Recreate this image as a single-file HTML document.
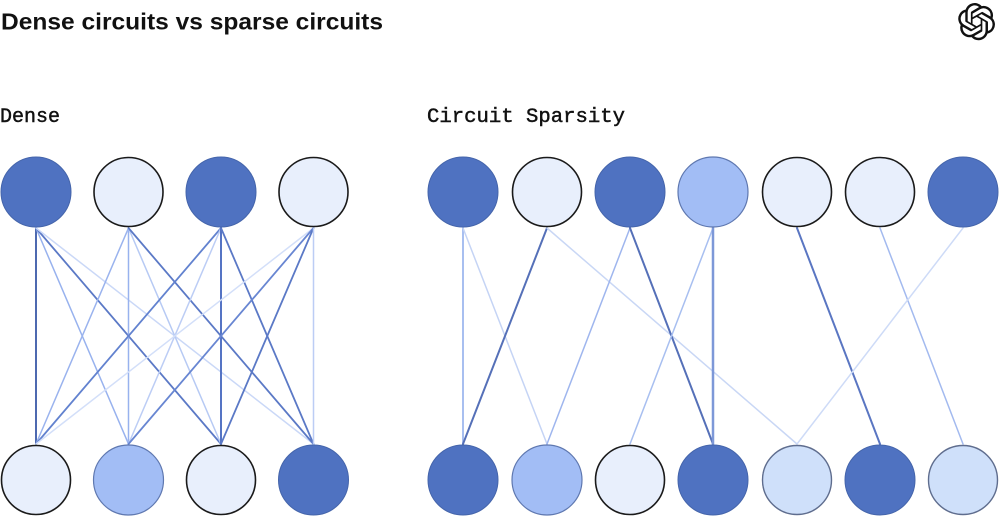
<!DOCTYPE html>
<html>
<head>
<meta charset="utf-8">
<style>
  html, body { margin: 0; padding: 0; background: #ffffff; }
  body { width: 1000px; height: 517px; overflow: hidden; }
  svg { display: block; }
</style>
</head>
<body>
<svg width="1000" height="517" viewBox="0 0 1000 517" xmlns="http://www.w3.org/2000/svg">
  <rect width="1000" height="517" fill="#ffffff"/>

  <!-- Title -->
  <text x="1" y="29.5" font-family="Liberation Sans, Arial, sans-serif" font-weight="bold" font-size="23" fill="#111111" textLength="382" lengthAdjust="spacingAndGlyphs">Dense circuits vs sparse circuits</text>

  <!-- Logo -->
  <g transform="translate(958,3) scale(1.55)" fill="#111111">
    <path d="M22.2819 9.8211a5.9847 5.9847 0 0 0-.5157-4.9108 6.0462 6.0462 0 0 0-6.5098-2.9A6.0651 6.0651 0 0 0 4.9807 4.1818a5.9847 5.9847 0 0 0-3.9977 2.9 6.0462 6.0462 0 0 0 .7427 7.0966 5.98 5.98 0 0 0 .511 4.9107 6.051 6.051 0 0 0 6.5146 2.9001A5.9847 5.9847 0 0 0 13.2599 24a6.0557 6.0557 0 0 0 5.7718-4.2058 5.9894 5.9894 0 0 0 3.9977-2.9001 6.0557 6.0557 0 0 0-.7475-7.0729zm-9.022 12.6081a4.4755 4.4755 0 0 1-2.8764-1.0408l.1419-.0804 4.7783-2.7582a.7948.7948 0 0 0 .3927-.6813v-6.7369l2.02 1.1686a.071.071 0 0 1 .038.052v5.5826a4.504 4.504 0 0 1-4.4945 4.4944zm-9.6607-4.1254a4.4708 4.4708 0 0 1-.5346-3.0137l.142.0852 4.783 2.7582a.7712.7712 0 0 0 .7806 0l5.8428-3.3685v2.3324a.0804.0804 0 0 1-.0332.0615L9.74 19.9502a4.4992 4.4992 0 0 1-6.1408-1.6464zM2.3408 7.8956a4.485 4.485 0 0 1 2.3655-1.9728V11.6a.7664.7664 0 0 0 .3879.6765l5.8144 3.3543-2.0201 1.1685a.0757.0757 0 0 1-.071 0l-4.8303-2.7865A4.504 4.504 0 0 1 2.3408 7.872zm16.5963 3.8558L13.1038 8.364 15.1192 7.2a.0757.0757 0 0 1 .071 0l4.8303 2.7913a4.4944 4.4944 0 0 1-.6765 8.1042v-5.6772a.79.79 0 0 0-.407-.667zm2.0107-3.0231l-.142-.0852-4.7735-2.7818a.7759.7759 0 0 0-.7854 0L9.409 9.2297V6.8974a.0662.0662 0 0 1 .0284-.0615l4.8303-2.7866a4.4992 4.4992 0 0 1 6.6802 4.66zM8.3065 12.863l-2.02-1.1638a.0804.0804 0 0 1-.038-.0567V6.0742a4.4992 4.4992 0 0 1 7.3757-3.4537l-.142.0805L8.704 5.459a.7948.7948 0 0 0-.3927.6813zm1.0976-2.3654l2.602-1.4998 2.6069 1.4998v2.9994l-2.5974 1.4997-2.6067-1.4997Z"/>
  </g>

  <!-- Section labels -->
  <text x="0" y="122" font-family="Liberation Mono, monospace" font-size="20" fill="#111111" stroke="#111111" stroke-width="0.45" textLength="60" lengthAdjust="spacingAndGlyphs">Dense</text>
  <text x="427" y="122" font-family="Liberation Mono, monospace" font-size="20" fill="#111111" stroke="#111111" stroke-width="0.45" textLength="198" lengthAdjust="spacingAndGlyphs">Circuit Sparsity</text>

  <!-- DENSE connections (top y=228, bottom y=444) -->
  <g stroke-linecap="round" fill="none">
    <line x1="36" y1="228" x2="36" y2="444" stroke="#4d69b0" stroke-width="2"/>
    <line x1="36" y1="228" x2="128.5" y2="444" stroke="#98b2ee" stroke-width="1.5"/>
    <line x1="36" y1="228" x2="221" y2="444" stroke="#5b79c6" stroke-width="1.8"/>
    <line x1="36" y1="228" x2="313.5" y2="444" stroke="#cad8f7" stroke-width="1.5"/>
    <line x1="128.5" y1="228" x2="36" y2="444" stroke="#9ab3ee" stroke-width="1.5"/>
    <line x1="128.5" y1="228" x2="128.5" y2="444" stroke="#98b2ee" stroke-width="1.5"/>
    <line x1="128.5" y1="228" x2="221" y2="444" stroke="#b7caf4" stroke-width="1.5"/>
    <line x1="128.5" y1="228" x2="313.5" y2="444" stroke="#5b79c6" stroke-width="1.8"/>
    <line x1="221" y1="228" x2="36" y2="444" stroke="#6282cf" stroke-width="1.8"/>
    <line x1="221" y1="228" x2="128.5" y2="444" stroke="#bccdf5" stroke-width="1.5"/>
    <line x1="221" y1="228" x2="221" y2="444" stroke="#5574c4" stroke-width="2"/>
    <line x1="221" y1="228" x2="313.5" y2="444" stroke="#5b79c6" stroke-width="1.8"/>
    <line x1="313.5" y1="228" x2="36" y2="444" stroke="#d3dff9" stroke-width="1.5"/>
    <line x1="313.5" y1="228" x2="128.5" y2="444" stroke="#6886d2" stroke-width="1.8"/>
    <line x1="313.5" y1="228" x2="221" y2="444" stroke="#5b79c6" stroke-width="1.8"/>
    <line x1="313.5" y1="228" x2="313.5" y2="444" stroke="#bccdf5" stroke-width="1.5"/>
  </g>

  <!-- SPARSE connections -->
  <g stroke-linecap="round" fill="none">
    <line x1="463" y1="228" x2="463" y2="444" stroke="#a8bff0" stroke-width="2"/>
    <line x1="463" y1="228" x2="547" y2="444" stroke="#c5d4f5" stroke-width="1.5"/>
    <line x1="547" y1="228" x2="463" y2="444" stroke="#5570b8" stroke-width="2"/>
    <line x1="547" y1="228" x2="797" y2="444" stroke="#c9d7f5" stroke-width="1.5"/>
    <line x1="630" y1="228" x2="547" y2="444" stroke="#9fb6ee" stroke-width="1.5"/>
    <line x1="630" y1="228" x2="713" y2="444" stroke="#5570b8" stroke-width="2"/>
    <line x1="713" y1="228" x2="630" y2="444" stroke="#a8bff0" stroke-width="1.5"/>
    <line x1="713" y1="228" x2="713" y2="444" stroke="#7d98d8" stroke-width="2.5"/>
    <line x1="797" y1="228" x2="880" y2="444" stroke="#5a76c2" stroke-width="2"/>
    <line x1="880" y1="228" x2="963" y2="444" stroke="#a3baef" stroke-width="1.5"/>
    <line x1="963" y1="228" x2="797" y2="444" stroke="#cedbf7" stroke-width="1.5"/>
  </g>

  <!-- DENSE nodes -->
  <g>
    <circle cx="36" cy="192" r="35" fill="#4f72c1" stroke="#4565ab" stroke-width="1"/>
    <circle cx="128.5" cy="192" r="34.5" fill="#e8effc" stroke="#1a1a1a" stroke-width="1.6"/>
    <circle cx="221" cy="192" r="35" fill="#4f72c1" stroke="#4565ab" stroke-width="1"/>
    <circle cx="313.5" cy="192" r="34.5" fill="#e8effc" stroke="#1a1a1a" stroke-width="1.6"/>

    <circle cx="36" cy="480" r="34.5" fill="#e8effc" stroke="#1a1a1a" stroke-width="1.6"/>
    <circle cx="128.5" cy="480" r="35" fill="#a2bdf5" stroke="#5f78b0" stroke-width="1.2"/>
    <circle cx="221" cy="480" r="34.5" fill="#e8effc" stroke="#1a1a1a" stroke-width="1.6"/>
    <circle cx="313.5" cy="480" r="35" fill="#4f72c1" stroke="#4565ab" stroke-width="1"/>
  </g>

  <!-- SPARSE nodes -->
  <g>
    <circle cx="463" cy="192" r="35" fill="#4f72c1" stroke="#4565ab" stroke-width="1"/>
    <circle cx="547" cy="192" r="34.5" fill="#e8effc" stroke="#1a1a1a" stroke-width="1.6"/>
    <circle cx="630" cy="192" r="35" fill="#4f72c1" stroke="#4565ab" stroke-width="1"/>
    <circle cx="713" cy="192" r="35" fill="#a2bdf5" stroke="#5f78b0" stroke-width="1.2"/>
    <circle cx="797" cy="192" r="34.5" fill="#e8effc" stroke="#1a1a1a" stroke-width="1.6"/>
    <circle cx="880" cy="192" r="34.5" fill="#e8effc" stroke="#1a1a1a" stroke-width="1.6"/>
    <circle cx="963" cy="192" r="35" fill="#4f72c1" stroke="#4565ab" stroke-width="1"/>

    <circle cx="463" cy="480" r="35" fill="#4f72c1" stroke="#4565ab" stroke-width="1"/>
    <circle cx="547" cy="480" r="35" fill="#a2bdf5" stroke="#5f78b0" stroke-width="1.2"/>
    <circle cx="630" cy="480" r="34.5" fill="#e8effc" stroke="#1a1a1a" stroke-width="1.6"/>
    <circle cx="713" cy="480" r="35" fill="#4f72c1" stroke="#4565ab" stroke-width="1"/>
    <circle cx="797" cy="480" r="34.5" fill="#cfe0fa" stroke="#5f6d8e" stroke-width="1.4"/>
    <circle cx="880" cy="480" r="35" fill="#4f72c1" stroke="#4565ab" stroke-width="1"/>
    <circle cx="963" cy="480" r="34.5" fill="#cfe0fa" stroke="#5f6d8e" stroke-width="1.4"/>
  </g>
</svg>
</body>
</html>
